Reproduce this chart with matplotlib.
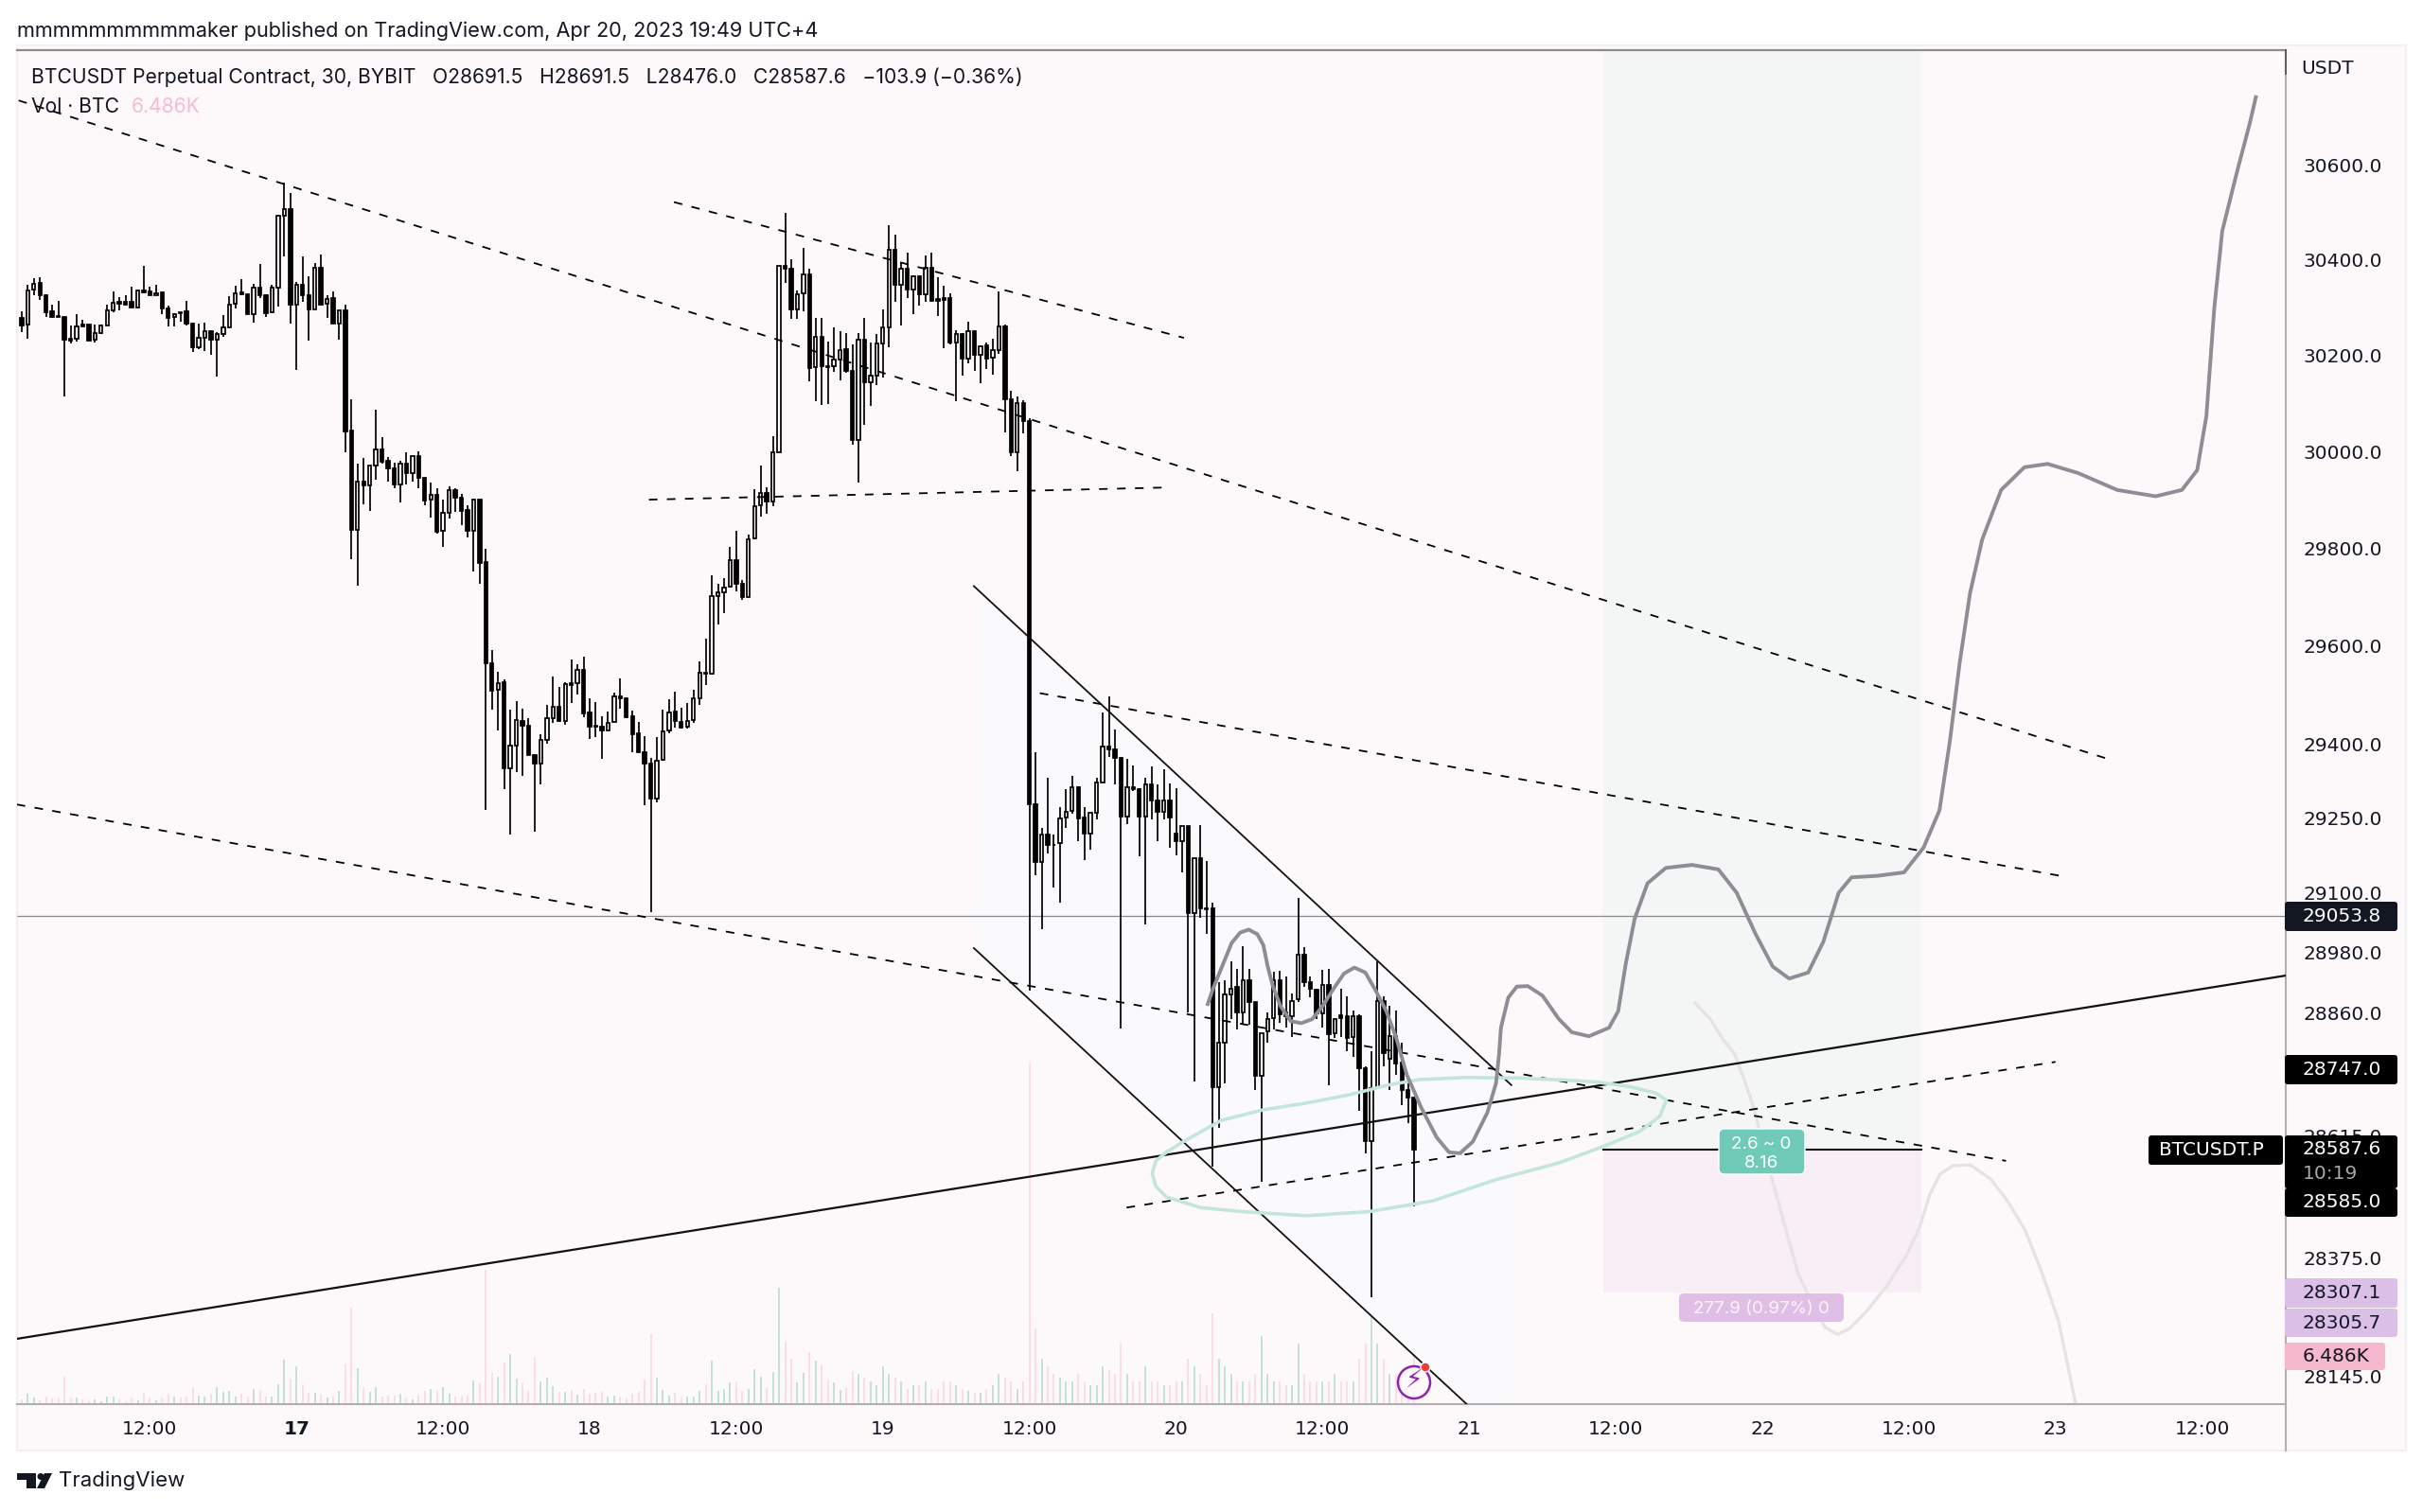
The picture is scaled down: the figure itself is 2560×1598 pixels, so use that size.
import numpy as np
import matplotlib
matplotlib.use('AGG')
import matplotlib.pyplot as plt
from matplotlib.patches import Rectangle, FancyBboxPatch, Polygon, Circle

plt.rcParams['font.family'] = ['Inter', 'DejaVu Sans']
plt.rcParams['lines.scale_dashes'] = False

# 30 min bars, bar 0 = Apr 16 00:00
first_bar = 3
opens = [
    30279,30264,30339,30352,30326,30293,30283,30281,30235,30235,
    30264,30264,30233,30247,30263,30294,30312,30312,30312,30301,
    30337,30334,30326,30332,30299,30281,30290,30292,30266,30218,
    30238,30251,30234,30246,30259,30308,30333,30329,30287,30342,
    30327,30290,30343,30493,30508,30306,30348,30326,30297,30384,
    30308,30320,30266,30295,30044,29838,29939,29931,29972,30005,
    29981,29966,29933,29976,29955,29991,29947,29902,29910,29836,
    29873,29921,29906,29879,29837,29901,29772,29565,29510,29527,
    29351,29398,29448,29437,29378,29360,29408,29453,29476,29448,
    29524,29524,29552,29464,29437,29436,29429,29445,29498,29494,
    29456,29422,29383,29360,29289,29368,29429,29466,29446,29435,
    29449,29493,29546,29544,29702,29711,29721,29776,29728,29701,
    29821,29889,29915,29897,30000,30388,30382,30297,30330,30370,
    30176,30239,30178,30178,30191,30214,30169,30024,30233,30145,
    30159,30225,30258,30422,30349,30381,30339,30365,30329,30383,
    30318,30320,30320,30228,30245,30193,30252,30202,30222,30195,
    30212,30260,30110,30000,30102,30064,29278,29162,29217,29197,
    29200,29251,29265,29313,29251,29220,29262,29323,29396,29390,
    29373,29254,29313,29309,29254,29319,29287,29264,29287,29220,
    29204,29234,29060,29169,29068,29068,28711,28801,28897,28911,
    28860,28924,28881,28734,28822,28850,28924,28860,28853,28886,
    28975,28920,28905,28858,28915,28819,28854,28852,28811,28853,
    28750,28605,28710,28883,28768,28813,28760,28707,28691.5]
closes = [
    30262,30337,30351,30326,30291,30281,30281,30233,30232,30260,
    30261,30232,30247,30262,30294,30311,30309,30307,30301,30337,
    30332,30326,30331,30298,30278,30286,30288,30266,30218,30238,
    30251,30234,30245,30259,30306,30331,30328,30287,30342,30327,
    30289,30342,30493,30507,30306,30348,30326,30297,30384,30307,
    30318,30266,30294,30042,29838,29938,29930,29972,30005,29980,
    29966,29932,29975,29955,29991,29946,29900,29910,29835,29873,
    29921,29905,29878,29837,29901,29771,29565,29509,29525,29351,
    29397,29450,29437,29378,29360,29408,29454,29476,29448,29522,
    29521,29552,29462,29435,29435,29429,29443,29498,29494,29455,
    29421,29383,29360,29289,29367,29427,29465,29448,29434,29448,
    29493,29546,29544,29702,29711,29720,29776,29728,29700,29820,
    29887,29914,29897,29999,30388,30382,30297,30329,30370,30175,
    30239,30178,30176,30191,30212,30169,30024,30234,30145,30159,
    30225,30258,30422,30349,30381,30339,30365,30329,30383,30314,
    30314,30317,30227,30245,30193,30252,30202,30220,30194,30212,
    30260,30110,30000,30102,30064,29278,29162,29217,29196,29196,
    29249,29264,29313,29249,29220,29261,29322,29396,29389,29373,
    29254,29313,29310,29254,29319,29287,29264,29287,29251,29204,
    29234,29060,29169,29068,29067,28711,28801,28897,28908,28860,
    28924,28881,28734,28819,28847,28924,28856,28853,28883,28975,
    28920,28907,28858,28915,28818,28847,28849,28809,28852,28750,
    28605,28710,28883,28779,28813,28758,28707,28692,28587.6]
highs = [
    30293,30348,30362,30364,30328,30306,30315,30281,30262,30286,
    30275,30265,30265,30264,30306,30334,30323,30326,30344,30339,
    30388,30345,30349,30332,30304,30288,30291,30315,30269,30266,
    30268,30252,30249,30284,30325,30347,30359,30329,30350,30391,
    30329,30348,30495,30564,30542,30354,30407,30366,30394,30412,
    30327,30335,30295,30307,30110,29975,29987,29972,30088,30030,
    29990,29977,29981,29999,29991,30001,29947,29936,29924,29902,
    29928,29925,29913,29889,29904,29902,29799,29592,29548,29532,
    29470,29488,29472,29454,29378,29420,29480,29537,29517,29526,
    29573,29563,29579,29494,29485,29456,29467,29506,29535,29494,
    29468,29446,29416,29372,29415,29470,29491,29508,29474,29484,
    29510,29569,29616,29745,29728,29740,29804,29836,29736,29829,
    29923,29972,29927,30033,30388,30500,30401,30337,30425,30381,
    30278,30278,30229,30258,30252,30248,30224,30248,30278,30227,
    30245,30296,30474,30454,30395,30416,30368,30367,30409,30415,
    30364,30347,30330,30254,30248,30271,30253,30222,30227,30235,
    30335,30264,30126,30115,30108,30070,29383,29230,29333,29217,
    29272,29309,29336,29315,29272,29261,29332,29464,29498,29430,
    29374,29370,29357,29311,29332,29355,29319,29349,29321,29311,
    29234,29234,29169,29236,29163,29081,28920,28924,28962,28947,
    28993,28948,28881,28819,28860,28941,28943,28932,28898,29089,
    28990,28932,28907,28945,28947,28847,28907,28892,28864,28856,
    28754,28784,28962,28892,28873,28864,28801,28728,28691.5]
lows = [
    30249,30235,30327,30316,30280,30279,30281,30115,30226,30229,
    30261,30232,30227,30245,30263,30290,30294,30307,30301,30298,
    30331,30326,30326,30286,30260,30260,30270,30262,30208,30214,
    30210,30202,30157,30239,30258,30298,30326,30287,30269,30320,
    30281,30289,30302,30408,30266,30170,30313,30231,30297,30306,
    30279,30266,30233,30000,29778,29723,29891,29878,29943,29975,
    29939,29924,29895,29932,29939,29924,29889,29864,29831,29803,
    29863,29876,29849,29823,29753,29727,29266,29470,29428,29310,
    29218,29344,29335,29378,29223,29318,29402,29444,29446,29440,
    29484,29501,29455,29411,29415,29371,29429,29445,29472,29453,
    29384,29383,29276,29061,29283,29367,29422,29434,29432,29432,
    29443,29481,29521,29542,29645,29668,29719,29712,29694,29700,
    29820,29866,29872,29887,29999,30352,30277,30277,30293,30147,
    30106,30097,30099,30167,30149,30165,30014,29936,30056,30095,
    30139,30154,30218,30312,30263,30320,30287,30304,30312,30314,
    30283,30216,30224,30106,30159,30184,30168,30143,30173,30161,
    30204,30041,29992,29960,30039,28903,29136,29026,29179,29111,
    29081,29230,29260,29204,29166,29187,29247,29322,29374,29319,
    28829,29238,29306,29173,29036,29247,29204,29247,29190,29175,
    29141,28860,28724,29049,29017,28554,28631,28720,28847,28826,
    28835,28835,28707,28524,28801,28826,28839,28830,28811,28881,
    28911,28890,28847,28830,28716,28809,28811,28784,28771,28665,
    28581,28299,28710,28754,28707,28737,28677,28641,28476]
# volume in thousands of BTC
volumes = [
    .63,1.33,.83,.54,.96,.75,.75,3.67,.92,.92,
    .63,.42,.63,.42,1.04,1.04,.63,.42,.83,.54,
    1.54,.83,.54,.92,1.38,1.04,.83,.96,2.29,1.17,
    1.04,1.33,2.29,1.67,1.75,1.04,1.38,1.04,1.96,1.88,
    1.04,.96,2.63,5.83,3.42,5.0,2.63,1.54,1.54,1.38,
    .92,.96,1.75,5.42,12.79,4.79,2.08,1.67,2.29,1.04,
    1.13,1.13,1.33,.83,.63,1.25,1.79,1.96,1.79,2.29,
    1.38,.96,1.13,1.25,3.13,2.79,17.71,4.08,3.67,5.5,
    6.67,3.42,2.92,1.79,6.17,3.04,3.54,2.42,1.67,1.67,
    1.75,1.25,1.96,1.38,1.54,1.67,1.04,1.17,1.04,.71,
    1.38,1.67,3.21,9.29,3.46,1.88,1.17,1.46,.83,.96,
    1.04,1.75,2.58,5.71,1.79,1.96,2.92,3.04,1.79,1.96,
    4.58,3.67,2.08,4.21,15.42,8.25,5.96,2.92,4.08,6.88,
    5.71,5.21,3.13,2.92,1.88,2.08,4.38,
    4,3.5,3,2.5,5,4,3.5,3,2,2.5,2.5,3,2,2,3,3,2.5,2,1.8,1.5,1.5,2,2.5,4,3.5,3,2,3,
    45,10,6,5,4,3.5,3,3,4,3,2.5,2.5,5,4.5,4,8,4,3,3,5,3,3,2.5,2.5,3,3,
    6,5,4,2.5,12,6,5,4,3,3,3,4,9,4,3,3,2.5,2.5,8,4,3,3,3,3,4,3,3,3,6,8,
    12,8,6,4,4,4,4,6.486]

# drawings as (bar, price)
dashed_lines = [
    ([2.5, 344.9], [30737, 29369]),
    ([109.8, 193.3], [30522, 30237]),
    ([105.7, 190.0], [29901, 29926]),
    ([2.2, 327.9], [29278, 28566]),
    ([169.7, 336.8], [29504, 29134]),
    ([183.9, 336.0], [28474, 28762]),
]
channel_x = [158.9, 246.9]
channel_upper = [29723, 28716]
channel_lower = [28989, 28010]
support_x = [2.2, 373.7]
support_y = [28217, 28934]

path_gray_x = [197.2,198,199.4,201.1,202.5,203.9,205.3,206.3,207,207.8,209.1,210.8,212.5,214.3,216,217.7,219.5,221.2,223,224.6,
               226.4,228.1,229.8,232.2,234.7,236.7,238.5,240.6,243,244.4,244.9,245.2,246.4,247.8,249.6,252,254.7,256.8,259.6,262.9,
               264.4,265.6,267.1,269.2,272.2,276.5,280.8,283.8,286.9,289.7,292.4,295.5,298,300.5,302.6,306.8,311.2,314.4,317,318.7,
               320.3,322,324,327.1,330.9,334.7,339.7,346.1,352.4,356.7,359.2,360.7,362,363.3,365.8,367.8,368.8]
path_gray_y = [28877,28906,28948,28999,29020,29026,29017,28995,28953,28915,28873,28843,28839,28847,28873,28906,28938,28950,28940,28906,
               28864,28808,28736,28670,28612,28583,28581,28604,28662,28720,28778,28830,28890,28912,28913,28894,28847,28821,28813,28830,
               28863,28955,29048,29119,29150,29156,29147,29100,29017,28952,28928,28940,29002,29100,29131,29134,29141,29191,29266,29406,
               29565,29708,29819,29921,29968,29975,29956,29921,29908,29921,29962,30074,30300,30461,30590,30688,30744]
path_faint_x = [277,279.5,281.7,283.4,285,286.7,288.3,290,291.7,293.9,296.1,298.3,300.3,302.2,305,308.3,311.6,313.8,315.4,317.1,
                319.3,322.1,325.4,328.2,331,333.7,336.5,338.2,339.3]
path_faint_y = [28879,28847,28804,28779,28728,28667,28587,28512,28437,28343,28288,28239,28226,28236,28270,28319,28380,28437,28499,28540,
                28557,28558,28530,28486,28430,28349,28252,28154,28091]
path_teal_x = [190.4,193.2,199.4,206.3,213.2,220.1,227.1,231.9,239.5,247.9,255.5,260.8,266.3,270.6,272.3,271.2,267.9,262.3,254.7,244.4,
               234,223.6,213.3,202.9,196,190.4,188.7,188.1,188.7,190.4]
path_teal_y = [28583,28604,28646,28667,28680,28696,28717,28727,28731,28730,28726,28722,28713,28700,28686,28654,28624,28596,28562,28529,
               28487,28466,28458,28466,28474,28495,28516,28541,28566,28583]

position_bars = [262, 314]
entry_price = 28587.6
stop_price = 28307.1
last_line_price = 29053.8

price_ticks = [30600, 30400, 30200, 30000, 29800, 29600, 29400, 29250, 29100, 28980, 28860, 28615, 28375, 28145]
time_ticks = [24, 48, 72, 96, 120, 144, 168, 192, 216, 240, 264, 288, 312, 336, 360]
time_labels = ['12:00', '17', '12:00', '18', '12:00', '19', '12:00', '20', '12:00', '21', '12:00', '22', '12:00', '23', '12:00']

BG = '#fdf8f9'
W, H = 2560, 1598
LEFT, RIGHT, TOP, BOTTOM = 18, 2415, 53, 1484
TEXT = '#131722'
AXIS_FONT = 'DejaVu Sans'

fig = plt.figure(figsize=(W / 100, H / 100), dpi=100, facecolor='white')

# outer pane colour
back = fig.add_axes([0, 0, 1, 1], zorder=-1)
back.set_xlim(0, W)
back.set_ylim(H, 0)
back.axis('off')
back.add_patch(Rectangle((LEFT, 48), 2542 - LEFT, 1533 - 48, facecolor=BG, edgecolor='#f0f1f4', lw=1.5))

rect = [LEFT / W, 1 - BOTTOM / H, (RIGHT - LEFT) / W, (BOTTOM - TOP) / H]

# volume sits behind price
axv = fig.add_axes(rect, zorder=1)
axv.set_xlim(2.24, 373.7)
axv.set_ylim(0, 179)
axv.axis('off')

ax = fig.add_axes(rect, zorder=2)
ax.patch.set_visible(False)
ax.set_yscale('log')
ax.set_xlim(2.24, 373.7)
ax.set_ylim(28090, 30844)

bars = np.arange(first_bar, first_bar + len(opens))
o, h, l, c = map(np.array, (opens, highs, lows, closes))
up = c >= o

axv.vlines(bars[up], 0, np.array(volumes)[up], color='#b9ded6', lw=1.2)
axv.vlines(bars[~up], 0, np.array(volumes)[~up], color='#fad9df', lw=1.2)

# channel tint and long position boxes
ax.fill_between(channel_x, channel_lower, channel_upper, color='#fafafc', lw=0, zorder=1)
ax.fill_between(position_bars, entry_price, 30844, color='#f3f6f5', lw=0, zorder=1)
ax.fill_between(position_bars, stop_price, entry_price, color='#f8eff6', lw=0, zorder=1)

ax.plot(path_faint_x, path_faint_y, color='#e6e2e5', lw=2.4, zorder=2, solid_joinstyle='round')
ax.hlines(last_line_price, 2.24, 373.7, color='#8a8a8e', lw=0.9, zorder=2)
ax.plot(position_bars, [entry_price, entry_price], color='#111111', lw=1.5, zorder=2)

ax.vlines(bars, l, h, color='black', lw=1.25, zorder=3)
ax.bar(bars, np.abs(c - o), bottom=np.minimum(o, c), width=0.52,
       color=['white' if u else 'black' for u in up], edgecolor='black', lw=1.25, zorder=4)

for xs, ys in dashed_lines:
    ax.plot(xs, ys, color='black', lw=1.3, dashes=(6.5, 7.2), zorder=5)
ax.plot(channel_x, channel_upper, color='#111111', lw=1.3, zorder=5)
ax.plot(channel_x, channel_lower, color='#111111', lw=1.3, zorder=5)
ax.plot(support_x, support_y, color='#111111', lw=1.6, zorder=5)
ax.plot(path_teal_x, path_teal_y, color='#c4e5dd', lw=2.6, zorder=5, solid_joinstyle='round')
ax.plot(path_gray_x, path_gray_y, color='#8e8c94', lw=2.8, zorder=6, solid_joinstyle='round')

ax.yaxis.tick_right()
ax.minorticks_off()
ax.set_yticks(price_ticks)
ax.set_yticklabels(['%.1f' % p for p in price_ticks], family=AXIS_FONT)
ax.set_xticks(time_ticks)
ax.set_xticklabels(time_labels, family=AXIS_FONT)
ax.tick_params(axis='both', which='both', length=0, labelsize=14.5, labelcolor=TEXT)
ax.tick_params(axis='y', pad=13)
ax.tick_params(axis='x', pad=12)
ax.get_xticklabels()[1].set_fontweight('bold')
for name, spine in ax.spines.items():
    spine.set_visible(name in ('right', 'bottom'))
    spine.set_color('#b2aeb0')
    spine.set_linewidth(1.5)

# everything below is drawn in pixel coordinates on top of the chart
ui = fig.add_axes([0, 0, 1, 1], zorder=10)
ui.set_xlim(0, W)
ui.set_ylim(H, 0)
ui.axis('off')
ui.patch.set_visible(False)

ui.plot([LEFT, RIGHT], [53, 53], color='#8f8c8e', lw=1.6)
ui.plot([RIGHT, RIGHT], [1484, 1533], color='#b2aeb0', lw=1.5)
ui.plot([RIGHT, RIGHT], [53, 78], color='#555555', lw=1.3)
ui.text(18, 33, 'mmmmmmmmmmaker published on TradingView.com, Apr 20, 2023 19:49 UTC+4',
        fontsize=15.6, color=TEXT, va='center')
ui.text(33, 82, 'BTCUSDT Perpetual Contract, 30, BYBIT   O28691.5   H28691.5   L28476.0   C28587.6   \u2212103.9 (\u22120.36%)',
        fontsize=15.2, color=TEXT, va='center')
ui.text(33, 113, 'Vol \u00b7 BTC', fontsize=15.2, color=TEXT, va='center')
ui.text(139, 113, '6.486K', fontsize=15.2, color='#f8bbd0', va='center')
ui.text(2431, 73, 'USDT', fontsize=14.5, color=TEXT, va='center', family=AXIS_FONT)


def tag(x0, x1, y0, y1, color, label=None, text_color='white', round_=3, tx=2433, fs=14.5):
    ui.add_patch(FancyBboxPatch((x0 + round_, y0 + round_), x1 - x0 - 2 * round_, y1 - y0 - 2 * round_,
                                boxstyle='round,pad=%d,rounding_size=%d' % (round_, round_),
                                facecolor=color, edgecolor='none'))
    if label:
        ui.text(tx, (y0 + y1) / 2, label, color=text_color, fontsize=fs, va='center', family=AXIS_FONT)


tag(2414, 2533, 953, 984, '#131722', '29053.8')
tag(2414, 2533, 1115, 1146, '#000000', '28747.0')
tag(2270, 2412, 1200, 1231, '#000000', 'BTCUSDT.P', tx=2281)
tag(2414, 2533, 1200, 1256, '#000000')
ui.text(2433, 1215, '28587.6', color='white', fontsize=14.5, va='center', family=AXIS_FONT)
ui.text(2433, 1240, '10:19', color='#a8a8a8', fontsize=14.5, va='center', family=AXIS_FONT)
tag(2414, 2533, 1256, 1286, '#000000', '28585.0')
tag(2414, 2533, 1351, 1382, '#dcbfe6', '28307.1', text_color=TEXT)
tag(2414, 2533, 1383, 1413, '#dcbfe6', '28305.7', text_color=TEXT)
tag(2414, 2520, 1419, 1448, '#f6b8cc', '6.486K', text_color=TEXT)

# position labels
ui.add_patch(FancyBboxPatch((1821, 1198), 81, 38, boxstyle='round,pad=5,rounding_size=6',
                            facecolor='#6fcbb8', edgecolor='white', lw=1))
ui.text(1861, 1210, '2.6 ~ 0', color='white', fontsize=13.5, ha='center', va='center')
ui.text(1861, 1229, '8.16', color='white', fontsize=13.5, ha='center', va='center')
tag(1774, 1948, 1367, 1397, '#dfbfe6', None, round_=5)
ui.text(1861, 1383, '277.9 (0.97%) 0', color='#fdf4fb', fontsize=13.5, ha='center', va='center')

# alert icon
ui.add_patch(Circle((1494, 1461), 17, facecolor=BG, edgecolor='#8e24aa', lw=1.8))
ui.text(1494, 1460, '\u26a1', color='#8e24aa', fontsize=19, ha='center', va='center', family='DejaVu Sans')
ui.add_patch(Circle((1506, 1445), 5, facecolor='#ef3b3b', edgecolor='white', lw=1))

# TradingView logo
ui.add_patch(Polygon([(18, 1557), (38, 1557), (38, 1573), (28, 1573), (28, 1564), (18, 1564)], facecolor=TEXT))
ui.add_patch(Circle((43, 1560.5), 3.5, facecolor=TEXT))
ui.add_patch(Polygon([(47, 1557), (55, 1557), (47, 1573), (39, 1573)], facecolor=TEXT))
ui.text(62, 1565, 'TradingView', fontsize=16, color=TEXT, va='center')

fig.savefig('out.png', dpi=100)
